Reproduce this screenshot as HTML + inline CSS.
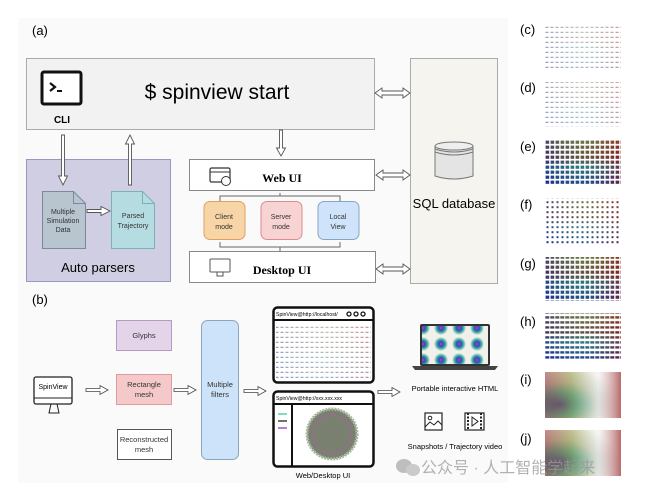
<!DOCTYPE html>
<html><head><meta charset="utf-8"><style>
body{margin:0;background:#fff}
svg{display:block}
text{font-family:"Liberation Sans","Noto Sans CJK SC",sans-serif}
.s{font-family:"Liberation Serif",serif;font-weight:bold}
</style></head><body>
<svg width="649" height="493" viewBox="0 0 649 493" xmlns="http://www.w3.org/2000/svg">
<defs>
<linearGradient id="gb" x1="0" y1="0" x2="0" y2="1"><stop offset="0" stop-color="#8a6a20"/><stop offset=".4" stop-color="#7a2a1a"/><stop offset=".6" stop-color="#2a6a7a"/><stop offset="1" stop-color="#1a1a8a"/></linearGradient>
<linearGradient id="gr" x1="0" y1="0" x2="1" y2="0"><stop offset="0" stop-color="#203090" stop-opacity=".6"/><stop offset=".5" stop-color="#30a090" stop-opacity=".3"/><stop offset="1" stop-color="#901020" stop-opacity=".6"/></linearGradient>
<pattern id="sq" width="5" height="5" patternUnits="userSpaceOnUse"><rect x="0.6" y="0.6" width="3.6" height="3.2" fill="#fff"/></pattern>
<pattern id="dt" width="5" height="5" patternUnits="userSpaceOnUse"><rect x="1.5" y="1.2" width="2" height="2" fill="#fff"/></pattern>
<pattern id="ar" width="5" height="5" patternUnits="userSpaceOnUse"><rect x="0.5" y="1.8" width="3" height="1" fill="#fff"/></pattern>
<pattern id="ar2" width="5" height="5" patternUnits="userSpaceOnUse"><rect x="0.3" y="1.2" width="4" height="2.4" fill="#fff"/></pattern>
<mask id="msq"><rect width="649" height="493" fill="url(#sq)"/></mask>
<mask id="mdt"><rect width="649" height="493" fill="url(#dt)"/></mask>
<mask id="mar"><rect width="649" height="493" fill="url(#ar)"/></mask>
<mask id="mar2"><rect width="649" height="493" fill="url(#ar2)"/></mask>
<radialGradient id="sm" cx=".2" cy=".7" r=".8"><stop offset="0" stop-color="#3040a0"/><stop offset=".3" stop-color="#40a0a0"/><stop offset=".6" stop-color="#c0c8c0"/><stop offset="1" stop-color="#f0f0f0"/></radialGradient>
<linearGradient id="sm2" x1="0" y1="0" x2="1" y2="0"><stop offset="0" stop-color="#a03030" stop-opacity=".5"/><stop offset=".35" stop-color="#a0a040" stop-opacity=".5"/><stop offset=".7" stop-color="#ffffff" stop-opacity=".4"/><stop offset="1" stop-color="#a03030" stop-opacity=".7"/></linearGradient>
<radialGradient id="sk" cx=".5" cy=".5" r=".5"><stop offset="0" stop-color="#b040b0"/><stop offset=".35" stop-color="#3050c0"/><stop offset=".65" stop-color="#40b0a0"/><stop offset="1" stop-color="#f0f0e8"/></radialGradient>
<pattern id="sk9" width="18" height="16" patternUnits="userSpaceOnUse"><rect width="18" height="16" fill="#f2f0ea"/><circle cx="9" cy="8" r="7" fill="url(#sk)"/></pattern>
</defs>
<rect width="649" height="493" fill="#fff"/>
<rect x="18" y="18" width="490" height="465" fill="#fafafa"/>

<!-- (a) -->
<text x="32" y="35" font-size="13">(a)</text>
<rect x="26.5" y="58.5" width="348" height="71" fill="#f2f2f2" stroke="#aaa"/>
<rect x="42" y="72" width="39" height="32" rx="2" fill="#fff" stroke="#111" stroke-width="3"/>
<path d="M50 83 l5 4 -5 4" fill="none" stroke="#111" stroke-width="2.2"/>
<rect x="57" y="90" width="5" height="2" fill="#111"/>
<text x="62" y="123" font-size="10" font-weight="bold" text-anchor="middle">CLI</text>
<text x="217" y="99" font-size="21" text-anchor="middle">$ spinview start</text>

<rect x="410.5" y="58.5" width="87" height="225" fill="#f6f4ee" stroke="#aaa"/>
<path d="M435 146 v30 q19 6 38 0 v-30" fill="#e4e4e4" stroke="#777"/>
<ellipse cx="454" cy="146" rx="19" ry="4" fill="#eee" stroke="#777"/>
<path d="M435 149 q19 6 38 0 M435 152 q19 6 38 0" fill="none" stroke="#777"/>
<text x="454" y="208" font-size="13" text-anchor="middle">SQL database</text>

<rect x="26.5" y="159.5" width="144" height="122" fill="#cfcee3" stroke="#9a98bf"/>

<g fill="#fff" stroke="#555" stroke-width="0.9">
<path d="M375 93 l7 -5 v3 h21 v-3 l7 5 -7 5 v-3 h-21 v3z"/>
<path d="M376 175 l7 -5 v3 h20 v-3 l7 5 -7 5 v-3 h-20 v3z"/>
<path d="M376 269 l7 -5 v3 h20 v-3 l7 5 -7 5 v-3 h-20 v3z"/>
<path d="M61.5 135 h3 v41 h3 l-4.5 9 -4.5 -9 h3z"/>
<path d="M128.5 185 h3 v-41 h3 l-4.5 -9 -4.5 9 h3z"/>
<path d="M279.5 130 h3 v18 h3 l-4.5 8 -4.5 -8 h3z"/>
<path d="M87 209.5 v3 h14 v3 l9 -4.5 -9 -4.5 v3z"/>
</g>

<path d="M42.5 191.5 h31 l12 12 v45 h-43z" fill="#b8c5cf" stroke="#7a8a9a"/>
<path d="M73.5 191.5 v12 h12" fill="none" stroke="#7a8a9a"/>
<text font-size="7" text-anchor="middle" fill="#333"><tspan x="63" y="214">Multiple</tspan><tspan x="63" y="223">Simulation</tspan><tspan x="63" y="232">Data</tspan></text>
<path d="M111.5 191.5 h31 l12 12 v45 h-43z" fill="#b5dde1" stroke="#7ab0b8"/>
<path d="M142.5 191.5 v12 h12" fill="none" stroke="#7ab0b8"/>
<text font-size="7" text-anchor="middle" fill="#333"><tspan x="133" y="218">Parsed</tspan><tspan x="133" y="228">Trajectory</tspan></text>
<text x="98" y="272" font-size="13" text-anchor="middle">Auto parsers</text>

<rect x="189.5" y="159.5" width="185" height="31" fill="#fff" stroke="#888"/>
<rect x="210" y="168" width="20" height="14" rx="1.5" fill="#fff" stroke="#333" stroke-width="1.2"/>
<line x1="210" y1="172" x2="230" y2="172" stroke="#333"/>
<circle cx="226" cy="181" r="4.5" fill="#fff" stroke="#333"/>
<text x="282" y="182" font-size="12" class="s" text-anchor="middle">Web UI</text>
<path d="M220 201 v-5 h120 v5 M280 196 v-3 M220 242 v5 h120 v-5 M280 247 v4" fill="none" stroke="#666"/>
<rect x="204" y="201.5" width="41" height="38" rx="6" fill="#f8d5a6" stroke="#e0a060"/>
<rect x="261" y="201.5" width="41" height="38" rx="6" fill="#f8d3d3" stroke="#e08a8a"/>
<rect x="318" y="201.5" width="41" height="38" rx="6" fill="#cfe4fa" stroke="#8aa4c4"/>
<g font-size="7" text-anchor="middle" fill="#333">
<text x="224" y="219">Client</text><text x="224" y="229">mode</text>
<text x="281" y="219">Server</text><text x="281" y="229">mode</text>
<text x="338" y="219">Local</text><text x="338" y="229">View</text></g>
<rect x="189.5" y="251.5" width="186" height="31" fill="#fff" stroke="#888"/>
<rect x="210" y="259" width="20" height="13" rx="1" fill="#fff" stroke="#555"/>
<path d="M217 272 v4 h6 v-4" fill="none" stroke="#555"/>
<text x="282" y="274" font-size="12" class="s" text-anchor="middle">Desktop UI</text>

<!-- (b) -->
<text x="32" y="304" font-size="13">(b)</text>
<rect x="34" y="377" width="38" height="27" rx="2" fill="#fff" stroke="#222" stroke-width="1.3"/>
<line x1="34" y1="398" x2="72" y2="398" stroke="#222"/>
<path d="M51 404 l-2 9 h10 l-2 -9" fill="none" stroke="#222"/>
<text x="53" y="389" font-size="7" text-anchor="middle">SpinView</text>
<g fill="#fff" stroke="#444" stroke-width="0.8">
<path d="M86 388.5 v3 h14 v3 l8 -4.5 -8 -4.5 v3z"/>
<path d="M174 388.5 v3 h14 v3 l8 -4.5 -8 -4.5 v3z"/>
<path d="M244 389.5 v3 h14 v3 l8 -4.5 -8 -4.5 v3z"/>
<path d="M378 390.5 v3 h14 v3 l8 -4.5 -8 -4.5 v3z"/>
</g>
<rect x="116.5" y="320.5" width="55" height="30" fill="#e3d4ea" stroke="#b59ac4"/>
<text x="144" y="338" font-size="7.5" text-anchor="middle" fill="#333">Glyphs</text>
<rect x="116.5" y="374.5" width="55" height="30" fill="#f5c9c9" stroke="#e09a9a"/>
<text font-size="7.5" text-anchor="middle" fill="#333"><tspan x="144" y="387">Rectangle</tspan><tspan x="144" y="397">mesh</tspan></text>
<rect x="117.5" y="429.5" width="54" height="30" fill="#fff" stroke="#555"/>
<text font-size="7.5" text-anchor="middle" fill="#333"><tspan x="144" y="442">Reconstructed</tspan><tspan x="144" y="452">mesh</tspan></text>
<rect x="201.5" y="320.5" width="37" height="139" rx="6" fill="#cde3f9" stroke="#8ea4bd"/>
<text font-size="7.5" text-anchor="middle" fill="#333"><tspan x="220" y="387">Multiple</tspan><tspan x="220" y="397">filters</tspan></text>

<rect x="273.5" y="307.5" width="100" height="75" rx="4" fill="#fff" stroke="#111" stroke-width="2.5"/>
<line x1="273" y1="320" x2="374" y2="320" stroke="#111" stroke-width="2"/>
<text x="276" y="316" font-size="5.2">SpinView@http://localhost/</text>
<g fill="#fff" stroke="#111" stroke-width="1.3"><circle cx="349" cy="314" r="2"/><circle cx="356" cy="314" r="2"/><circle cx="363" cy="314" r="2"/>
<circle cx="349" cy="397" r="2"/><circle cx="356" cy="397" r="2"/><circle cx="363" cy="397" r="2"/></g>
<g mask="url(#mar)" opacity=".7"><rect x="276" y="323" width="95" height="57" fill="url(#gb)" opacity=".7"/><rect x="276" y="323" width="95" height="57" fill="url(#gr)"/></g>
<rect x="273.5" y="391.5" width="100" height="75" rx="4" fill="#fff" stroke="#111" stroke-width="2.5"/>
<line x1="273" y1="404" x2="374" y2="404" stroke="#111" stroke-width="2"/>
<line x1="292" y1="404" x2="292" y2="466" stroke="#111" stroke-width="2"/>
<text x="276" y="400" font-size="5.2">SpinView@http://xxx.xxx.xxx</text>
<path d="M278 414 h9" stroke="#2bc4a0" stroke-width="1.2"/><path d="M278 421 h9" stroke="#111" stroke-width="1.2"/><path d="M278 428 h9" stroke="#a050d0" stroke-width="1.5"/>
<circle cx="332" cy="434" r="25" fill="#7a8070" stroke="#a8b8a0" stroke-width="3" stroke-dasharray="2 1"/>
<circle cx="332" cy="434" r="19" fill="none" stroke="#9a6a90" stroke-width="2" opacity=".6"/>
<text x="323" y="478" font-size="7.5" text-anchor="middle">Web/Desktop UI</text>

<rect x="420" y="324" width="70" height="42" rx="2" fill="#333"/>
<rect x="422" y="326" width="66" height="38" fill="url(#sk9)"/>
<path d="M412 366 h86 l-3 4 h-80z" fill="#444"/>
<text x="455" y="391" font-size="7.5" text-anchor="middle">Portable interactive HTML</text>
<rect x="425" y="413" width="17" height="17" fill="#fff" stroke="#222" stroke-width="1.2"/>
<circle cx="430" cy="418" r="1.8" fill="none" stroke="#222"/>
<path d="M425 427 l5 -5 4 3 4 -4 4 4" fill="none" stroke="#222"/>
<rect x="465" y="413" width="19" height="17" fill="#fff" stroke="#222" stroke-width="1.2"/>
<path d="M468 413 v17 M481 413 v17" stroke="#222" stroke-dasharray="2 1.5" stroke-width="2"/>
<path d="M472 417 l6 4.5 -6 4.5z" fill="none" stroke="#222"/>
<text x="455" y="449" font-size="7.5" text-anchor="middle">Snapshots / Trajectory video</text>

<!-- right panels -->
<g font-size="13">
<text x="520" y="34">(c)</text><text x="520" y="92">(d)</text><text x="520" y="151">(e)</text><text x="520" y="209">(f)</text>
<text x="520" y="268">(g)</text><text x="520" y="326">(h)</text><text x="520" y="384">(i)</text><text x="520" y="443">(j)</text></g>
<g mask="url(#mar)" opacity=".7"><rect x="545" y="23" width="76" height="45" fill="url(#gb)" opacity=".6"/><rect x="545" y="23" width="76" height="45" fill="url(#gr)"/></g>
<g mask="url(#mar)" opacity=".7"><rect x="545" y="82" width="76" height="45" fill="url(#gb)" opacity=".6"/><rect x="545" y="82" width="76" height="45" fill="url(#gr)"/></g>
<g mask="url(#msq)"><rect x="545" y="140" width="76" height="45" fill="url(#gb)"/><rect x="545" y="140" width="76" height="45" fill="url(#gr)"/></g>
<g mask="url(#mdt)"><rect x="545" y="198" width="76" height="47" fill="url(#gb)"/><rect x="545" y="198" width="76" height="47" fill="url(#gr)"/></g>
<g mask="url(#msq)"><rect x="545" y="257" width="76" height="44" fill="url(#gb)"/><rect x="545" y="257" width="76" height="44" fill="url(#gr)"/></g>
<g mask="url(#mar2)"><rect x="545" y="313" width="76" height="47" fill="url(#gb)"/><rect x="545" y="313" width="76" height="47" fill="url(#gr)"/></g>
<rect x="545" y="372" width="76" height="46" fill="url(#sm)"/><rect x="545" y="372" width="76" height="46" fill="url(#sm2)"/>
<rect x="545" y="430" width="76" height="46" fill="url(#sm)"/><rect x="545" y="430" width="76" height="46" fill="url(#sm2)"/>

<!-- watermark -->
<g opacity=".75">
<ellipse cx="404" cy="466" rx="8" ry="7" fill="#aaa"/><ellipse cx="413" cy="470" rx="7" ry="6" fill="#bbb"/>
<text x="421" y="473" font-size="16" fill="#999">公众号 · 人工智能学起来</text></g>
</svg>
</body></html>
